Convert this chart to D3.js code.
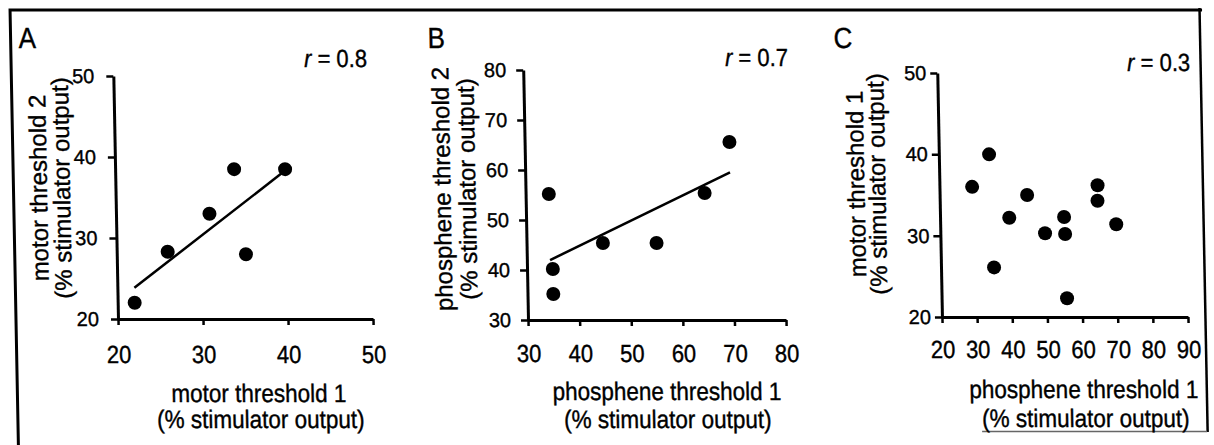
<!DOCTYPE html>
<html>
<head>
<meta charset="utf-8">
<script src="https://cdn.jsdelivr.net/npm/d3@7"></script>
<style>
  body { margin: 0; background: #fff; }
  svg { display: block; font-family: "Liberation Sans", Arial, Helvetica, sans-serif; }
  svg text { stroke: #000; stroke-width: 0.35px; }
</style>
</head>
<body>
<svg id="chart" width="1214" height="445"></svg>
<script>
// panel A: motor threshold 1 vs 2
var motor1A = [22, 26, 31, 34, 35.2, 40];
var motor2A = [22, 28.3, 33, 38.5, 28, 38.5];
// panel B: phosphene threshold 1 vs 2
var phos1B = [34.5, 35, 35, 44.8, 55.2, 64.7, 69.7];
var phos2B = [55.2, 40.2, 35.2, 45.4, 45.4, 55.4, 65.6];
// panel C: phosphene threshold 1 vs motor threshold 1
var phos1C = [29.3, 34.3, 35.1, 39.7, 44.9, 49.8, 55.3, 55.5, 55.7, 65.0, 64.9, 70.1];
var motor1C = [36.0, 40.0, 26.1, 32.2, 35.0, 30.3, 32.3, 30.2, 22.3, 36.2, 34.3, 31.4];

var panelLetters = ["A", "B", "C"];
var rValues = [0.8, 0.7, 0.3];
var showFit = [true, true, false];

var xTicksA = [20, 30, 40, 50], yTicksA = [20, 30, 40, 50];
var xTicksB = [30, 40, 50, 60, 70, 80], yTicksB = [30, 40, 50, 60, 70, 80];
var xTicksC = [20, 30, 40, 50, 60, 70, 80, 90], yTicksC = [20, 30, 40, 50];

var xTitles = [
  ["motor threshold 1", "(% stimulator output)"],
  ["phosphene threshold 1", "(% stimulator output)"],
  ["phosphene threshold 1", "(% stimulator output)"]
];
var yTitles = [
  ["motor threshold 2", "(% stimulator output)"],
  ["phosphene threshold 2", "(% stimulator output)"],
  ["motor threshold 1", "(% stimulator output)"]
];

// layout of each panel (pixels); xLab = baseline offset of x tick labels
var layout = [
  {x0: 118, x1: 373, y0: 319, y1: 76, yPad: 12, xLab: 44,
   letter: [24, 48], r: [372, 67], yt: [49.5, 72.5, 188], xt: [[257.5, 402], [259, 428]]},
  {x0: 528, x1: 786, y0: 320, y1: 70, yPad: 10, xLab: 42,
   letter: [433, 48], r: [793, 66], yt: [453, 478, 189], xt: [[665.5, 400], [666, 428]]},
  {x0: 942, x1: 1188, y0: 317, y1: 73, yPad: 4, xLab: 41,
   letter: [839, 48], r: [1195, 71], yt: [867, 888, 184], xt: [[1082.5, 398], [1084, 427]]}
];
var stretch = 1.12;   // scanned text is a bit taller than it is wide

var panels = [
  {xs: motor1A, ys: motor2A, xt: xTicksA, yt: yTicksA},
  {xs: phos1B, ys: phos2B, xt: xTicksB, yt: yTicksB},
  {xs: phos1C, ys: motor1C, xt: xTicksC, yt: yTicksC}
];

function tallText(sel, x, y, size, anchor) {
  return sel.append("text")
      .attr("transform", "translate(" + x + "," + y + ") scale(1," + stretch + ")")
      .attr("text-anchor", anchor || "start")
      .attr("font-size", size);
}

var svg = d3.select("#chart");
// the scan is slightly sheared, so shear the whole drawing a little
var root = svg.append("g")
    .attr("transform", "translate(0,320) skewX(1.1) translate(0,-320)");

// frame
root.append("path")
    .attr("d", "M16,445 V10 H1208")
    .attr("fill", "none").attr("stroke", "#000").attr("stroke-width", 3);
root.append("path")
    .attr("d", "M1205.5,8 V432")
    .attr("fill", "none").attr("stroke", "#000").attr("stroke-width", 2.5);
root.append("path")
    .attr("d", "M980,431.5 H1205")
    .attr("fill", "none").attr("stroke", "#666").attr("stroke-width", 1.5);

panels.forEach(function(p, i) {
  var L = layout[i];
  var x = d3.scaleLinear().domain(d3.extent(p.xt)).range([L.x0, L.x1]);
  var y = d3.scaleLinear().domain(d3.extent(p.yt)).range([L.y0, L.y1]);
  var g = root.append("g");

  var xAxis = g.append("g")
      .attr("transform", "translate(0," + L.y0 + ")")
      .call(d3.axisBottom(x).tickValues(p.xt).tickSize(6).tickSizeOuter(0));
  var yAxis = g.append("g")
      .attr("transform", "translate(" + L.x0 + ",0)")
      .call(d3.axisLeft(y).tickValues(p.yt).tickSize(7).tickSizeOuter(0).tickPadding(L.yPad));

  [xAxis, yAxis].forEach(function(a) {
    a.attr("font-family", null).attr("font-size", null);
    a.select(".domain").attr("stroke", "#000").attr("stroke-width", 3);
    a.selectAll(".tick line").attr("stroke", "#000").attr("stroke-width", 2.5);
    a.selectAll(".tick text").attr("fill", "#000");
  });
  xAxis.selectAll(".tick text")
      .attr("font-size", 22)
      .attr("dy", null)
      .attr("y", L.xLab / stretch)
      .attr("transform", "scale(1," + stretch + ")");
  yAxis.selectAll(".tick text").attr("font-size", 20);

  // least squares fit
  if (showFit[i]) {
    var mx = d3.mean(p.xs), my = d3.mean(p.ys);
    var sxy = d3.sum(p.xs, function(v, k) { return (v - mx) * (p.ys[k] - my); });
    var sxx = d3.sum(p.xs, function(v) { return (v - mx) * (v - mx); });
    var b = sxy / sxx, a0 = my - b * mx;
    var ext = d3.extent(p.xs);
    g.append("line")
        .attr("x1", x(ext[0])).attr("y1", y(a0 + b * ext[0]))
        .attr("x2", x(ext[1])).attr("y2", y(a0 + b * ext[1]))
        .attr("stroke", "#000").attr("stroke-width", 2.5);
  }

  g.selectAll("circle.pt")
    .data(p.xs)
    .enter().append("circle")
      .attr("class", "pt")
      .attr("cx", function(d) { return x(d); })
      .attr("cy", function(d, k) { return y(p.ys[k]); })
      .attr("r", 7)
      .attr("fill", "#000");

  // panel letter and r label
  tallText(g, L.letter[0], L.letter[1], 26).text(panelLetters[i]);
  var rt = tallText(g, L.r[0], L.r[1], 22, "end");
  rt.append("tspan").attr("font-style", "italic").text("r");
  rt.append("tspan").text(" = " + rValues[i].toFixed(1));

  // axis titles
  xTitles[i].forEach(function(t, k) {
    tallText(g, L.xt[k][0], L.xt[k][1], 22.5, "middle").text(t);
  });
  yTitles[i].forEach(function(t, k) {
    g.append("text")
        .attr("transform", "translate(" + L.yt[k] + "," + L.yt[2] + ") rotate(-90)")
        .attr("text-anchor", "middle")
        .attr("font-size", 24)
        .text(t);
  });
});
</script>
</body>
</html>
